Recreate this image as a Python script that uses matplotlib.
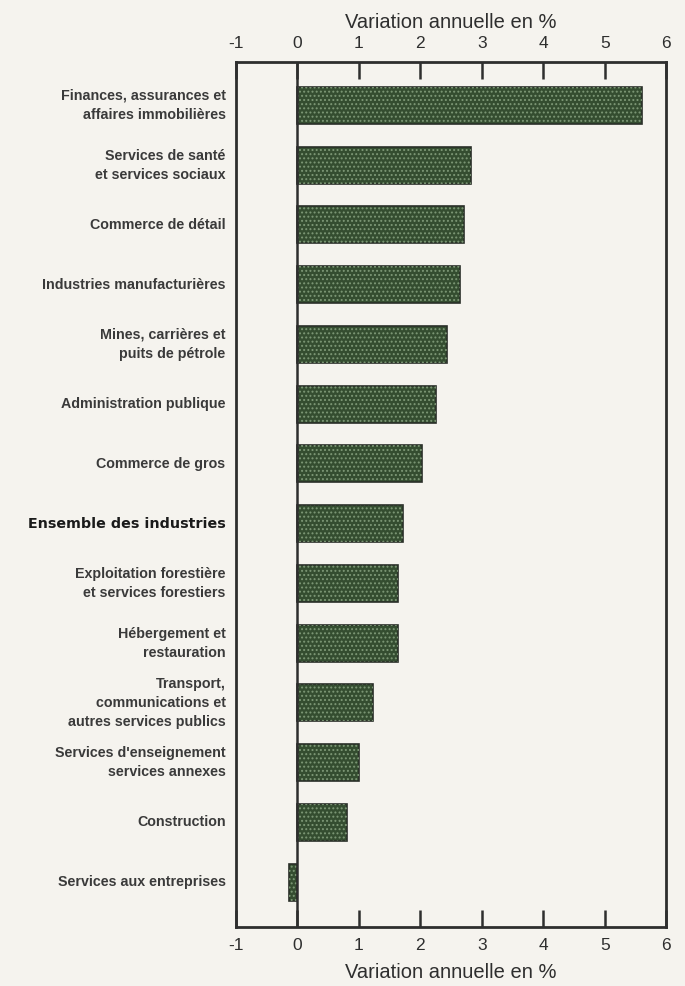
import matplotlib.pyplot as plt

# Categories, top to bottom
categories = [
    "Finances, assurances et\naffaires immobilières",
    "Services de santé\net services sociaux",
    "Commerce de détail",
    "Industries manufacturières",
    "Mines, carrières et\npuits de pétrole",
    "Administration publique",
    "Commerce de gros",
    "Ensemble des industries",
    "Exploitation forestière\net services forestiers",
    "Hébergement et\nrestauration",
    "Transport,\ncommunications et\nautres services publics",
    "Services d'enseignement\nservices annexes",
    "Construction",
    "Services aux entreprises",
]
values = [5.6, 2.83, 2.71, 2.65, 2.43, 2.25, 2.03, 1.72, 1.63, 1.63, 1.23, 1.0, 0.8, -0.13]
xticks = [-1, 0, 1, 2, 3, 4, 5, 6]

plt.rcParams['font.family'] = ['Liberation Sans', 'DejaVu Sans']
plt.rcParams['hatch.linewidth'] = 0.9
bg = '#f5f3ee'
ink = '#2e2e2e'

fig = plt.figure(figsize=(6.85, 9.86), dpi=100, facecolor=bg)
ax = fig.add_axes([0.3445, 0.0598, 0.628, 0.877])
ax.set_facecolor(bg)

pos = list(range(len(categories)))
ax.barh(pos, values, height=0.62, color='#344d30', edgecolor='#2a2f28', linewidth=1.2, zorder=2)
ax.barh(pos, values, height=0.62, color='none', edgecolor='#7d9876', hatch='....', linewidth=0, zorder=3)

ax.set_xlim(-1, 6)
ax.set_ylim(len(categories) - 0.25, -0.72)
ax.axvline(0, color=ink, lw=1.8, zorder=4)

ax.set_xticks(xticks)
ax.set_xticklabels([str(t) for t in xticks])
ax.tick_params(axis='x', direction='in', length=12, width=1.8, color=ink,
               labelsize=12.5, labelcolor=ink, top=True, labeltop=True, pad=8)
ax.set_yticks([])
for s in ax.spines.values():
    s.set_linewidth(2)
    s.set_color(ink)

ax.set_xlabel("Variation annuelle en %", fontsize=14.5, color=ink, labelpad=7)
top = ax.secondary_xaxis('top')
top.set_xticks([])
top.spines['top'].set_visible(False)
top.set_xlabel("Variation annuelle en %", fontsize=14.5, color=ink, labelpad=25)

for i, lab in enumerate(categories):
    if lab == "Ensemble des industries":
        ax.text(-1.17, i, lab, ha='right', va='center', fontsize=10.3,
                color='#1a1a1a', fontweight='bold', family=['DejaVu Sans'],
                transform=ax.transData, clip_on=False)
    else:
        ax.text(-1.17, i, lab, ha='right', va='center', fontsize=10.3,
                color='#3a3a3a', fontweight='bold', linespacing=1.45,
                transform=ax.transData, clip_on=False)

fig.savefig("out.png", dpi=100, facecolor=bg)
